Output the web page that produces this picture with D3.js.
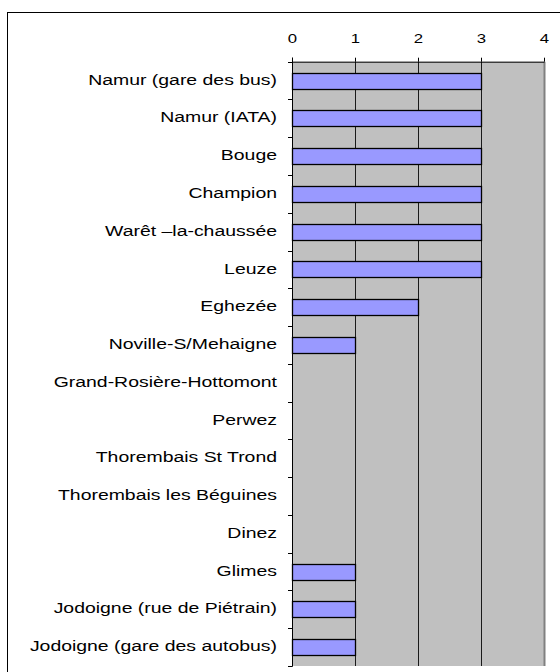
<!DOCTYPE html>
<html><head><meta charset="utf-8">
<script src="https://cdn.jsdelivr.net/npm/d3@7"></script>
<style>
html,body{margin:0;padding:0;background:#fff;}
svg{display:block;}
text{font-family:"Liberation Sans",Arial,sans-serif;fill:#000;}
</style></head>
<body><svg id="c" width="560" height="672"></svg>
<script>
const categories = ["Namur (gare des bus)","Namur (IATA)","Bouge","Champion","Warêt \u2013la-chaussée","Leuze","Eghezée ","Noville-S/Mehaigne","Grand-Rosière-Hottomont","Perwez","Thorembais St Trond","Thorembais les Béguines","Dinez","Glimes","Jodoigne (rue de Piétrain)","Jodoigne (gare des autobus)"];
const values = [3,3,3,3,3,3,2,1,0,0,0,0,0,1,1,1];
const xTicks = [0,1,2,3,4];

const svg = d3.select("#c");
const L = 292, R = 544, T = 61.7, B = 666;
const SX = 1.34;

// outer border
svg.append("rect").attr("x",7.5).attr("y",12.5).attr("width",620).attr("height",720)
  .attr("fill","#fff").attr("stroke","#000").attr("stroke-width",1);

const x = d3.scaleLinear().domain([0,4]).range([L,R]);
const y = d3.scaleBand().domain(categories).range([T,B]).paddingInner(0).paddingOuter(0);

// plot area
svg.append("rect").attr("x",L).attr("y",T).attr("width",R-L).attr("height",B-T).attr("fill","#c0c0c0");
// right border
svg.append("line").attr("x1",R+0.5).attr("x2",R+0.5).attr("y1",T).attr("y2",B)
  .attr("stroke","#808080").attr("stroke-width",2);

// gridlines
svg.append("g").selectAll("line").data(xTicks.filter(d=>d>0&&d<4)).join("line")
  .attr("x1",d=>Math.round(x(d))+0.5).attr("x2",d=>Math.round(x(d))+0.5)
  .attr("y1",T).attr("y2",B).attr("stroke","#1a1a1a").attr("stroke-width",1);

// bars
const bh = 16;
svg.append("g").selectAll("rect").data(categories.map((c,i)=>({c,v:values[i]})).filter(d=>d.v>0)).join("rect")
  .attr("x",x(0)+0.5)
  .attr("y",d=>Math.round(y(d.c)+(y.bandwidth()-bh)/2)+0.5)
  .attr("width",d=>x(d.v)-x(0))
  .attr("height",bh)
  .attr("fill","#9999ff").attr("stroke","#000").attr("stroke-width",1.3);

// top axis
const ax = svg.append("g").attr("transform",`translate(0,${T})`)
  .call(d3.axisTop(x).tickValues(xTicks).tickFormat(d3.format("d")).tickSize(4).tickSizeOuter(0).tickPadding(15));
ax.select(".domain").attr("stroke","#000");
ax.selectAll(".tick line").attr("stroke","#000");
ax.selectAll(".tick text").attr("font-size",12.5).attr("font-family","Liberation Sans, Arial, sans-serif")
  .attr("transform",`scale(${SX},1)`);

// left axis line
svg.append("line").attr("x1",L+0.5).attr("x2",L+0.5).attr("y1",T-4).attr("y2",B+0.5).attr("stroke","#000");
// left ticks at band boundaries
const bounds = categories.map(c=>y(c)).concat([B]);
svg.append("g").selectAll("line").data(bounds).join("line")
  .attr("x1",L-4).attr("x2",L+0.5)
  .attr("y1",d=>Math.round(d)+0.5).attr("y2",d=>Math.round(d)+0.5)
  .attr("stroke","#000");

// category labels
svg.append("g").selectAll("g").data(categories).join("g")
  .attr("transform",d=>`translate(277,${y(d)+y.bandwidth()/2-1}) scale(${SX},1)`)
  .append("text").attr("text-anchor","end").attr("dominant-baseline","central")
  .attr("font-size",14.5).text(d=>d);
</script></body></html>
